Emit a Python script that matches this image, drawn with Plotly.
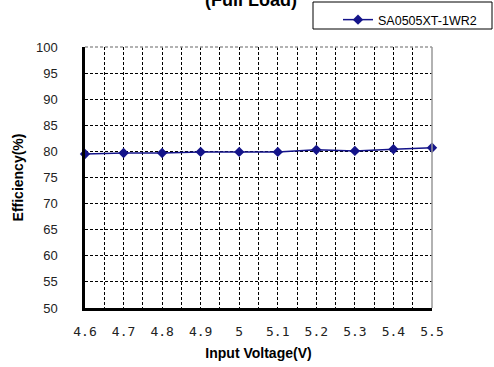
import plotly.graph_objects as go

voltage = [4.6, 4.7, 4.8, 4.9, 5.0, 5.1, 5.2, 5.3, 5.4, 5.5]
efficiency = [79.5, 79.7, 79.7, 79.9, 79.9, 79.9, 80.3, 80.1, 80.4, 80.7]
x_tick_labels = ["4.6", "4.7", "4.8", "4.9", "5", "5.1", "5.2", "5.3", "5.4", "5.5"]
y_ticks = [50, 55, 60, 65, 70, 75, 80, 85, 90, 95, 100]
series_name = "SA0505XT-1WR2"

L, R, T, B = 85, 62, 47, 59
W, H = 494, 367
pw, ph = W - L - R, H - T - B


def px_x(p):
    return (p - L) / pw


def px_y(p):
    return (H - B - p) / ph


fig = go.Figure()
fig.add_trace(go.Scatter(
    x=voltage, y=efficiency, mode="lines+markers", name=series_name,
    line=dict(color="#14148a", width=1.5),
    marker=dict(symbol="diamond", size=8, color="#14148a"),
    cliponaxis=False,
))

grid_dash = "3px,2px"

fig.update_layout(
    width=W, height=H,
    margin=dict(l=L, r=R, t=T, b=B, autoexpand=False),
    paper_bgcolor="white", plot_bgcolor="white",
    font=dict(family="Liberation Sans, Arial", color="black"),
    showlegend=True,
    legend=dict(
        x=px_x(338), y=px_y(5), xanchor="left", yanchor="top",
        bgcolor="rgba(0,0,0,0)", borderwidth=0,
        font=dict(size=12.5, family="Liberation Sans, Arial"),
        itemwidth=30,
    ),
    xaxis=dict(
        range=[4.6, 5.5], tickvals=voltage, ticktext=x_tick_labels,
        automargin=False,
        showgrid=True, gridcolor="black", griddash=grid_dash, gridwidth=1,
        minor=dict(dtick=0.05, tick0=4.6, showgrid=True, gridcolor="black",
                   griddash=grid_dash, gridwidth=1),
        showline=True, linecolor="black", linewidth=2.5,
        ticks="", ticklabelstandoff=10,
        tickfont=dict(family="DejaVu Sans Mono", size=13, color="#222"),
        title=dict(text="<b>Input Voltage(V)</b>", font=dict(size=14), standoff=10),
        zeroline=False,
    ),
    yaxis=dict(
        range=[50, 100], tickvals=y_ticks,
        automargin=False,
        showgrid=True, gridcolor="black", griddash=grid_dash, gridwidth=1,
        showline=True, linecolor="black", linewidth=2.5,
        ticks="", ticklabelstandoff=22,
        tickfont=dict(size=13, color="#222"),
        title=dict(text="<b>Efficiency(%)</b>", font=dict(size=14), standoff=10),
        zeroline=False,
    ),
    shapes=[
        dict(type="rect", xref="paper", yref="paper",
             x0=px_x(313), x1=px_x(492),
             y0=px_y(29), y1=px_y(2),
             line=dict(color="black", width=1), fillcolor="rgba(0,0,0,0)"),
        dict(type="line", xref="paper", yref="paper", x0=0, x1=1, y0=1, y1=1,
             line=dict(color="#999", width=1.5, dash="3px,2px")),
        dict(type="line", xref="paper", yref="paper", x0=1, x1=1, y0=0, y1=1,
             line=dict(color="#999", width=1.5)),
    ],
    annotations=[
        dict(text="<b>(Full Load)</b>", xref="paper", yref="paper",
             x=px_x(251), y=px_y(12), xanchor="center", yanchor="bottom",
             showarrow=False, font=dict(size=18, family="Liberation Sans, Arial")),
    ],
)

fig.write_html("out.html")
